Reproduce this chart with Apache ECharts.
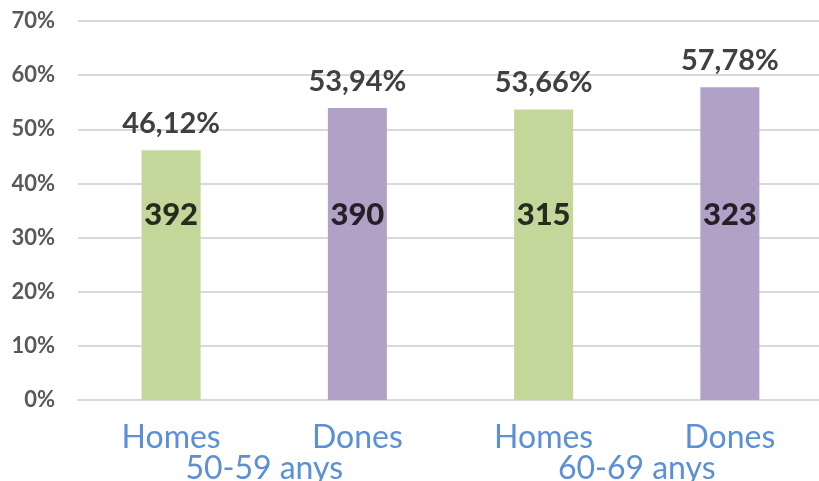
<!DOCTYPE html>
<html>
<head>
<meta charset="utf-8">
<script src="https://cdn.jsdelivr.net/npm/echarts@6/dist/echarts.min.js"></script>
<style>html,body{margin:0;padding:0;background:#fff}#c{width:819px;height:481px}</style>
</head>
<body>
<div id="c"></div>
<script>
const categories = ['Homes', 'Dones', 'Homes', 'Dones'];
const groups = ['50-59 anys', '60-69 anys'];
const percentages = [46.12, 53.94, 53.66, 57.78];
const counts = [392, 390, 315, 323];
const countLabelLevel = 34.2;
const colors = ['#c4d79b', '#b2a1c7', '#c4d79b', '#b2a1c7'];

const chart = echarts.init(document.getElementById('c'));
chart.setOption({
  animation: false,
  grid: { left: 78, right: -4, top: 21, bottom: 81, containLabel: false, outerBoundsMode: 'none' },
  xAxis: [
    {
      type: 'category', data: categories, position: 'bottom',
      axisLine: { show: true, lineStyle: { color: '#d9d9d9', width: 2 } },
      axisTick: { show: false },
      axisLabel: { color: '#5b8fd6', fontFamily: 'Lato', fontSize: 32, margin: 22 }
    },
    {
      type: 'category', data: groups, position: 'bottom', offset: 31,
      axisLine: { show: false }, axisTick: { show: false },
      axisLabel: { color: '#5b8fd6', fontFamily: 'Lato', fontSize: 32, margin: 22 }
    }
  ],
  yAxis: {
    type: 'value', min: 0, max: 70, interval: 10,
    axisLine: { show: false }, axisTick: { show: false },
    splitLine: { lineStyle: { color: '#d9d9d9', width: 2 } },
    axisLabel: { formatter: '{value}%', color: '#595959', fontFamily: 'Lato', fontWeight: 'bold', fontSize: 22, margin: 23 }
  },
  series: [
    {
      type: 'bar', xAxisIndex: 0, barWidth: 59,
      data: percentages.map((v, i) => ({ value: v, itemStyle: { color: colors[i] } })),
      label: {
        show: true, position: 'top', distance: 12,
        formatter: p => p.value.toFixed(2).replace('.', ',') + '%',
        color: '#404040', fontFamily: 'Lato', fontWeight: 'bold', fontSize: 29
      }
    },
    {
      type: 'scatter', xAxisIndex: 0, symbolSize: 0, silent: true,
      data: counts.map((c, i) => [i, countLabelLevel, c]),
      label: {
        show: true, position: 'inside',
        formatter: p => String(p.value[2]),
        color: '#000', fontFamily: 'Lato', fontWeight: 900, fontSize: 31
      }
    }
  ]
});
</script>
</body>
</html>
